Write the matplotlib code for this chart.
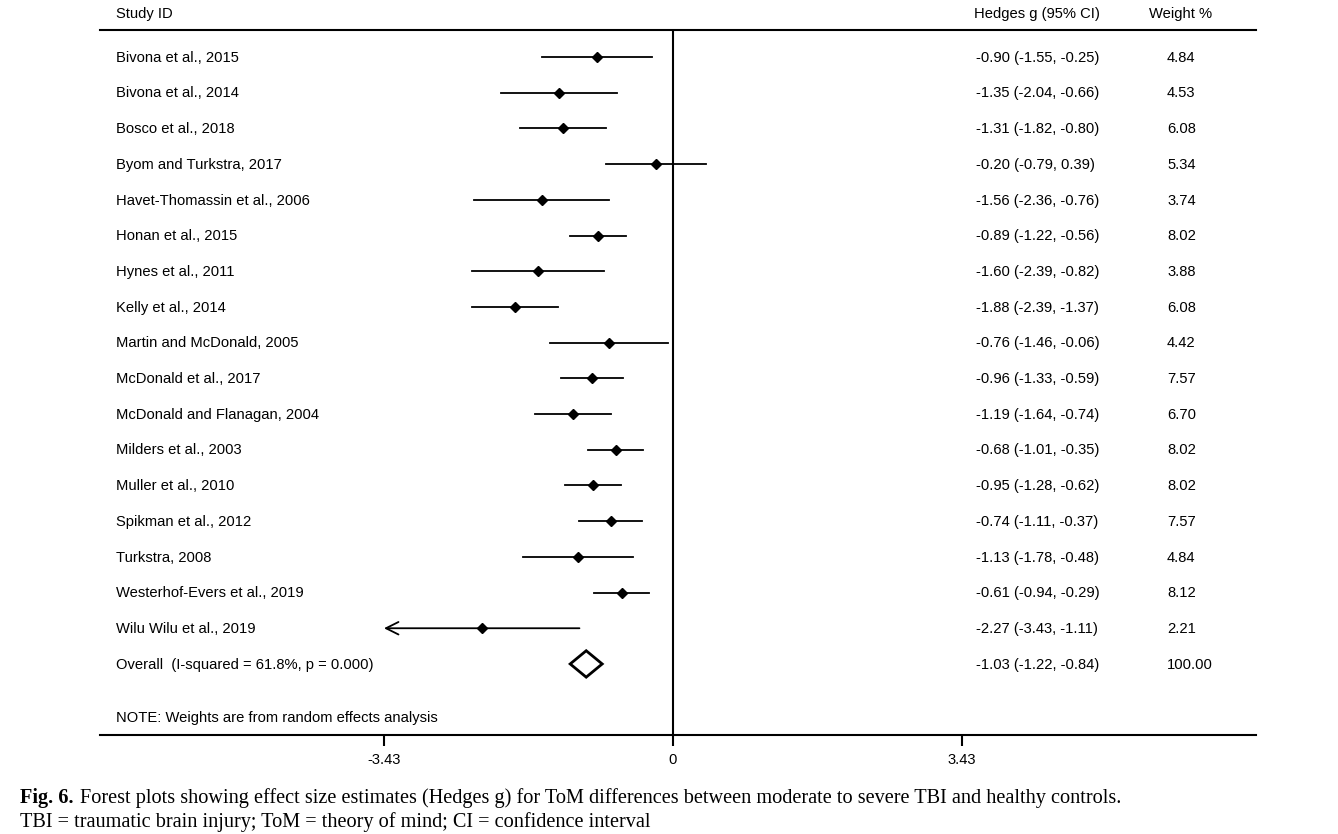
import matplotlib
matplotlib.use("Agg")
import matplotlib.pyplot as plt
from matplotlib.patches import Polygon

# --- data ---
studies = ["Bivona et al., 2015", "Bivona et al., 2014", "Bosco et al., 2018",
           "Byom and Turkstra, 2017", "Havet-Thomassin et al., 2006", "Honan et al., 2015",
           "Hynes et al., 2011", "Kelly et al., 2014", "Martin and McDonald, 2005",
           "McDonald et al., 2017", "McDonald and Flanagan, 2004", "Milders et al., 2003",
           "Muller et al., 2010", "Spikman et al., 2012", "Turkstra, 2008",
           "Westerhof-Evers et al., 2019", "Wilu Wilu et al., 2019"]
g = [-0.90, -1.35, -1.31, -0.20, -1.56, -0.89, -1.60, -1.88, -0.76,
     -0.96, -1.19, -0.68, -0.95, -0.74, -1.13, -0.61, -2.27]
lo = [-1.55, -2.04, -1.82, -0.79, -2.36, -1.22, -2.39, -2.39, -1.46,
      -1.33, -1.64, -1.01, -1.28, -1.11, -1.78, -0.94, -3.43]
hi = [-0.25, -0.66, -0.80, 0.39, -0.76, -0.56, -0.82, -1.37, -0.06,
      -0.59, -0.74, -0.35, -0.62, -0.37, -0.48, -0.29, -1.11]
weights = [4.84, 4.53, 6.08, 5.34, 3.74, 8.02, 3.88, 6.08, 4.42,
           7.57, 6.70, 8.02, 8.02, 7.57, 4.84, 8.12, 2.21]
overall_label = "Overall  (I-squared = 61.8%, p = 0.000)"
overall_g, overall_lo, overall_hi, overall_w = -1.03, -1.22, -0.84, 100.00
xticks = [-3.43, 0, 3.43]

plt.rcParams["font.family"] = ["Liberation Sans", "DejaVu Sans"]
FS = 10.6

fig = plt.figure(figsize=(13.38, 8.34), dpi=100)
ax = fig.add_axes([100 / 1338, 1 - 735 / 834, 1156 / 1338, 705 / 834])

clip = -3.43
ax.set_xlim(-6.800, 6.919)
ax.set_ylim(18.99, -0.756)

n = len(studies)
for i in range(n):
    left = max(lo[i], clip)
    if lo[i] <= clip:
        # CI runs past the axis range: open arrow at the clip point
        ax.annotate("", xy=(clip, i), xytext=(hi[i], i),
                    arrowprops=dict(arrowstyle="->,head_length=0.9,head_width=0.45",
                                    lw=1.3, color="black", shrinkA=0, shrinkB=0))
    else:
        ax.plot([left, hi[i]], [i, i], color="black", lw=1.3)
    ax.plot(g[i], i, marker="D", color="black", markersize=5)
    ax.text(-6.61, i + 0.02, studies[i], va="center", ha="left", fontsize=FS)
    ax.text(3.596, i + 0.02, f"{g[i]:.2f} ({lo[i]:.2f}, {hi[i]:.2f})", va="center", ha="left", fontsize=FS)
    ax.text(5.863, i + 0.02, f"{weights[i]:.2f}", va="center", ha="left", fontsize=FS)

# overall diamond
yo = n
h = 0.37
ax.add_patch(Polygon([(overall_lo, yo), (overall_g, yo - h), (overall_hi, yo), (overall_g, yo + h)],
                     closed=True, fill=False, edgecolor="black", lw=2.0, joinstyle="miter"))
ax.text(-6.61, yo + 0.02, overall_label, va="center", ha="left", fontsize=FS)
ax.text(3.596, yo + 0.02, f"{overall_g:.2f} ({overall_lo:.2f}, {overall_hi:.2f})", va="center", ha="left", fontsize=FS)
ax.text(5.863, yo + 0.02, f"{overall_w:.2f}", va="center", ha="left", fontsize=FS)
ax.text(-6.61, yo + 1.5, "NOTE: Weights are from random effects analysis", va="center", ha="left", fontsize=FS)

# headers above the top rule
ax.text(-6.61, -1.2, "Study ID", va="center", ha="left", fontsize=FS, clip_on=False)
ax.text(3.572, -1.2, "Hedges g (95% CI)", va="center", ha="left", fontsize=FS, clip_on=False)
ax.text(5.649, -1.2, "Weight %", va="center", ha="left", fontsize=FS, clip_on=False)

ax.axvline(0, color="black", lw=1.5)

for s in ["left", "right"]:
    ax.spines[s].set_visible(False)
for s in ["top", "bottom"]:
    ax.spines[s].set_linewidth(1.5)
ax.set_yticks([])
ax.set_xticks(xticks)
ax.set_xticklabels(["-3.43", "0", "3.43"], fontsize=FS)
ax.tick_params(axis="x", direction="out", length=8, width=1.5, pad=5)

# caption
serif = ["Liberation Serif", "DejaVu Serif"]
CFS = 14.6
t1 = fig.text(20 / 1338, 1 - 798 / 834, "Fig. 6.", fontsize=CFS, fontweight="bold",
              family=serif, va="center", ha="left")
fig.canvas.draw()
bb = t1.get_window_extent(fig.canvas.get_renderer())
fig.text((bb.x1 + 7) / 1338, 1 - 798 / 834,
         "Forest plots showing effect size estimates (Hedges g) for ToM differences between moderate to severe TBI and healthy controls.",
         fontsize=CFS, family=serif, va="center", ha="left")
fig.text(20 / 1338, 1 - 822 / 834,
         "TBI = traumatic brain injury; ToM = theory of mind; CI = confidence interval",
         fontsize=CFS, family=serif, va="center", ha="left")

fig.savefig("out.png", dpi=100)
